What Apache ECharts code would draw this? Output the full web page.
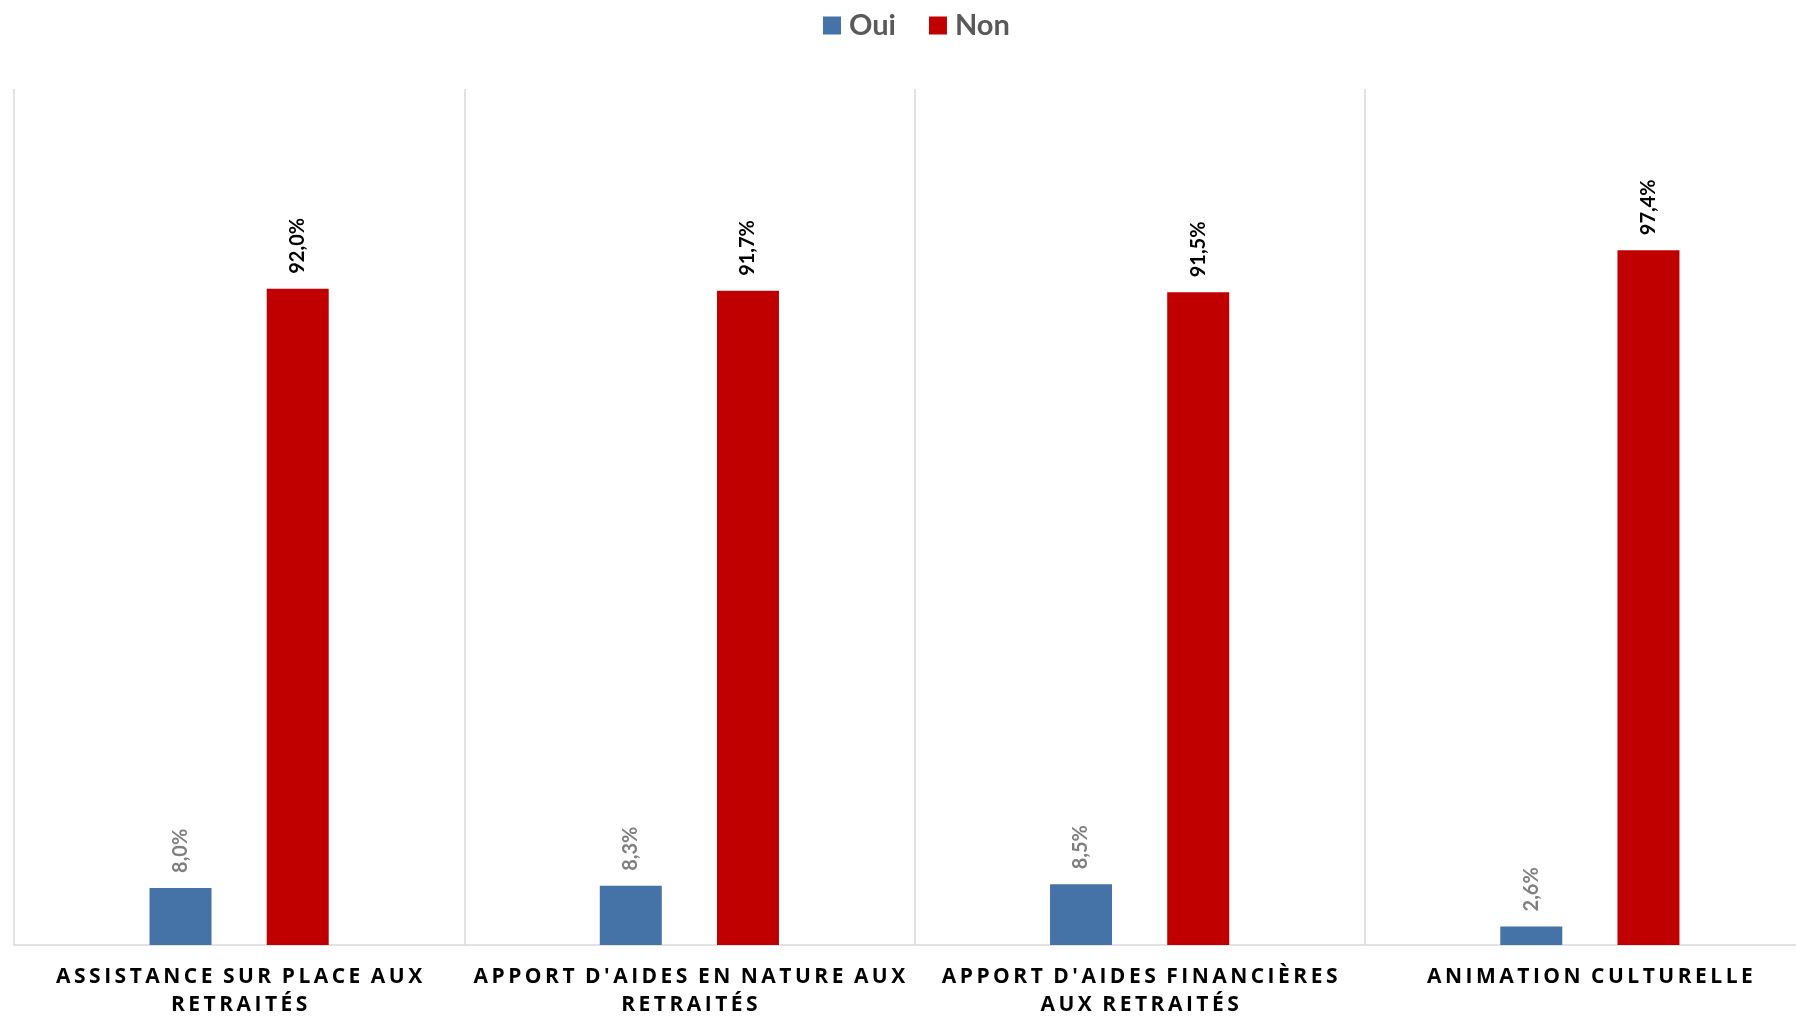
<!DOCTYPE html>
<html>
<head>
<meta charset="utf-8">
<script src="https://cdn.jsdelivr.net/npm/echarts@6/dist/echarts.min.js"></script>
<style>
html,body{margin:0;padding:0;background:#fff;}
#chart{width:1796px;height:1016px;}
</style>
</head>
<body>
<div id="chart"></div>
<script>
const categories = [
  "ASSISTANCE SUR PLACE AUX\nRETRAITÉS",
  "APPORT D'AIDES EN NATURE AUX\nRETRAITÉS",
  "APPORT D'AIDES FINANCIÈRES\nAUX RETRAITÉS",
  "ANIMATION CULTURELLE"
];
const seriesNames = ["Oui", "Non"];
const ouiValues = [8.0, 8.3, 8.5, 2.6];
const nonValues = [92.0, 91.7, 91.5, 97.4];

function spaced(s) {
  return s.split('\n').map(line =>
    line.split(' ').map(w => w.split('').join('\u2009')).join('\u2002')
  ).join('\n');
}
function pct(v) { return v.toFixed(1).replace('.', ',') + '%'; }

const chart = echarts.init(document.getElementById('chart'));
chart.setOption({
  animation: false,
  backgroundColor: '#ffffff',
  legend: {
    data: seriesNames,
    left: 823,
    top: 11,
    padding: 0,
    itemWidth: 18,
    itemHeight: 18,
    itemGap: 33,
    icon: 'rect',
    textStyle: { fontFamily: 'Lato', fontWeight: 'bold', fontSize: 29, color: '#595959', padding: [0, 0, 0, 3] }
  },
  grid: { left: 14, width: 1801, top: 89, bottom: 71, containLabel: false, outerBoundsMode: 'none' },
  xAxis: {
    type: 'category',
    data: categories,
    axisTick: { show: false },
    axisLine: { show: true, lineStyle: { color: '#d9d9d9', width: 1.5 } },
    splitLine: { show: true, lineStyle: { color: '#d9d9d9', width: 1.5 } },
    axisLabel: {
      interval: 0,
      margin: 18,
      fontFamily: 'Open Sans',
      fontWeight: 'bold',
      fontSize: 21,
      lineHeight: 28,
      color: '#000000',
      formatter: v => spaced(v)
    }
  },
  yAxis: {
    type: 'value',
    min: 0,
    max: 120,
    show: false,
    splitLine: { show: false }
  },
  series: [
    {
      name: seriesNames[0],
      type: 'bar',
      data: ouiValues,
      barWidth: 62,
      barGap: '89%',
      itemStyle: { color: '#4572a7' },
      label: {
        show: true, position: 'top', rotate: 90, align: 'left', verticalAlign: 'middle',
        distance: 15, fontFamily: 'Lato', fontWeight: 'bold', fontSize: 20, color: '#7f7f7f',
        formatter: p => pct(p.value)
      }
    },
    {
      name: seriesNames[1],
      type: 'bar',
      data: nonValues,
      barWidth: 62,
      barGap: '89%',
      itemStyle: { color: '#c00000' },
      label: {
        show: true, position: 'top', rotate: 90, align: 'left', verticalAlign: 'middle',
        distance: 15, fontFamily: 'Lato', fontWeight: 'bold', fontSize: 20, color: '#000000',
        formatter: p => pct(p.value)
      }
    }
  ]
});
</script>
</body>
</html>
